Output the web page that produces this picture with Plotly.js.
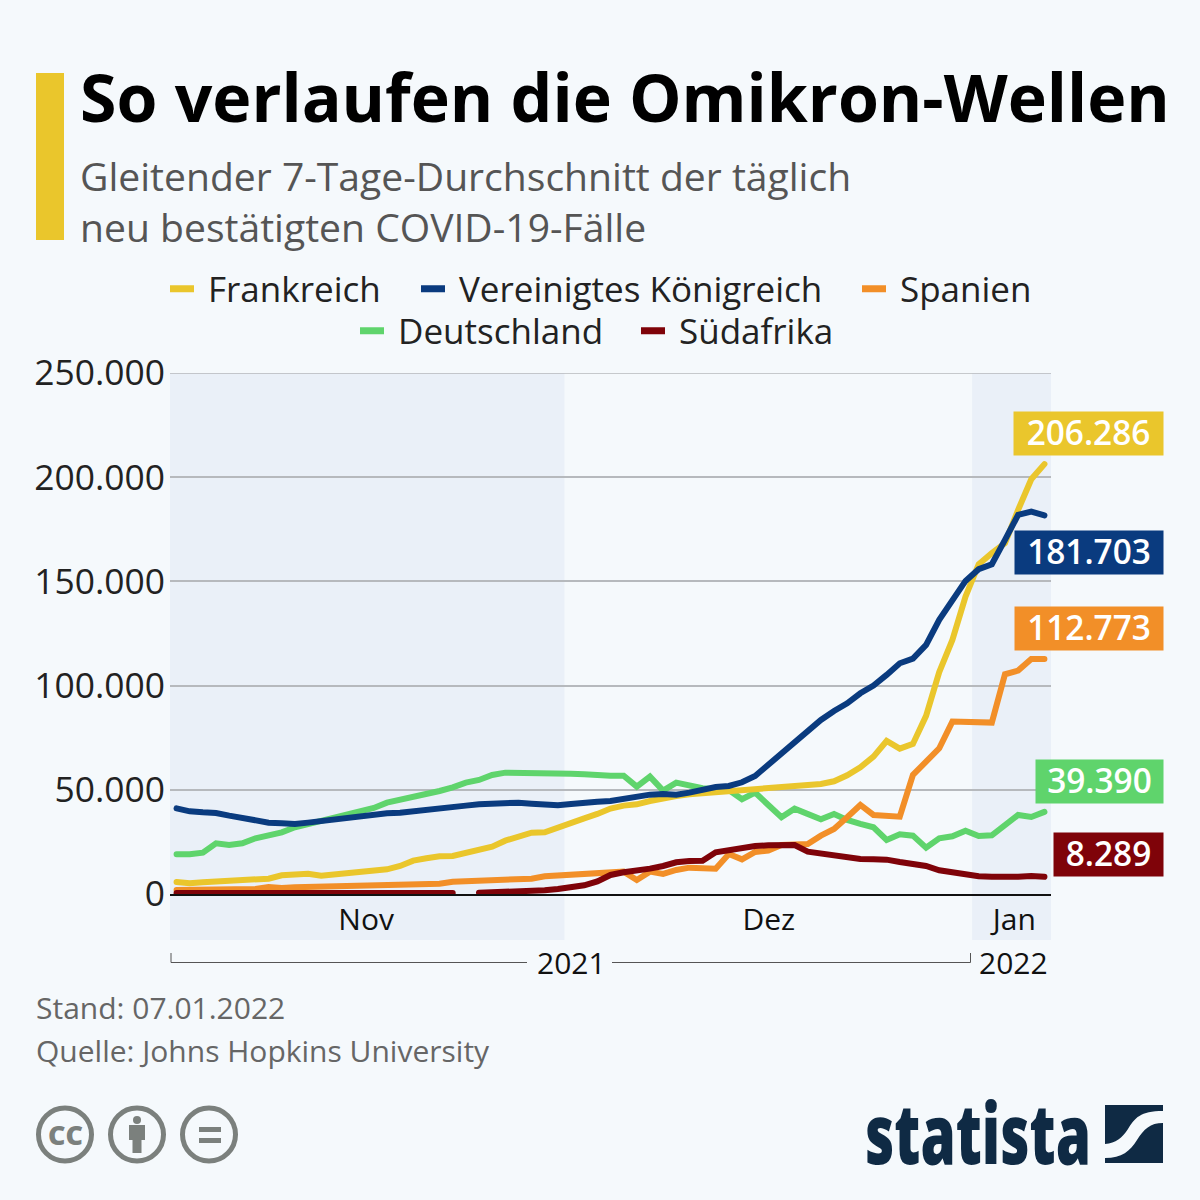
<!DOCTYPE html>
<html><head><meta charset="utf-8">
<script src="https://cdn.plot.ly/plotly-3.0.0.min.js"></script>
<style>html,body{margin:0;padding:0;background:#F5F9FC}.scatterlayer .js-line{stroke-linecap:round}</style></head>
<body><div id="chart" style="width:1200px;height:1200px"></div>
<script>
const days = ["2021-11-01","2021-11-02","2021-11-03","2021-11-04","2021-11-05","2021-11-06","2021-11-07","2021-11-08","2021-11-09","2021-11-10","2021-11-11","2021-11-12","2021-11-13","2021-11-14","2021-11-15","2021-11-16","2021-11-17","2021-11-18","2021-11-19","2021-11-20","2021-11-21","2021-11-22","2021-11-23","2021-11-24","2021-11-25","2021-11-26","2021-11-27","2021-11-28","2021-11-29","2021-11-30","2021-12-01","2021-12-02","2021-12-03","2021-12-04","2021-12-05","2021-12-06","2021-12-07","2021-12-08","2021-12-09","2021-12-10","2021-12-11","2021-12-12","2021-12-13","2021-12-14","2021-12-15","2021-12-16","2021-12-17","2021-12-18","2021-12-19","2021-12-20","2021-12-21","2021-12-22","2021-12-23","2021-12-24","2021-12-25","2021-12-26","2021-12-27","2021-12-28","2021-12-29","2021-12-30","2021-12-31","2022-01-01","2022-01-02","2022-01-03","2022-01-04","2022-01-05","2022-01-06"];
const frankreich = [5760,5120,5600,6080,6560,6880,7200,7360,8960,9280,9760,8800,9440,10080,10240,11040,11840,13440,16000,17120,18080,18240,19520,21120,22720,25600,27840,29440,29600,32000,34240,36320,38400,41000,42400,43040,44640,46080,47040,47840,48320,48640,48800,49600,50080,50560,50880,51360,52160,52800,54080,56960,60800,65920,73440,69760,72000,85500,106500,121920,142720,158240,163520,168320,184320,199040,206286];
const vereinigtesKoenigreich = [41120,39680,39200,38880,37600,36320,35360,34240,33920,33600,34240,35040,36000,36640,37600,38400,38720,39040,39840,40320,40800,41600,42400,43040,43200,43840,43840,43360,43040,42560,43200,44000,44320,44640,45760,47040,47680,48000,47680,48640,50240,51360,51840,53600,56640,61920,67040,72640,77920,83520,87840,91520,96320,100000,105120,110720,112960,119520,131520,140320,150240,155840,158240,169920,181920,183520,181703];
const spanien = [1920,2080,2240,2400,2400,2400,2400,3360,2880,3200,3360,3360,3360,3520,4000,4480,4640,4800,4960,4960,4960,5920,6240,6560,7040,7360,7360,7360,8480,8960,9120,9920,10400,10720,10720,6720,10720,9600,11520,12640,12640,12160,19200,16640,20160,20800,23520,24000,24000,28000,31200,36800,42720,37920,37600,37120,57120,63520,69920,82720,82720,82720,82240,105440,107200,112800,112773];
const deutschland = [19040,19040,19840,24320,23520,24320,26720,28320,29600,32000,33600,35040,36800,38080,39680,41280,43840,45120,47040,48320,49440,51200,53440,54720,57120,58240,58240,57600,58240,58240,57760,57440,56960,56800,56800,51520,56320,49600,53440,52160,50720,50240,49920,45440,48640,42720,36800,40960,38400,35840,38400,35520,33600,32000,25920,28640,28000,22240,26720,27680,30400,27840,28160,32800,37920,36960,39390];
const suedafrika = [480,480,480,480,480,480,480,480,480,480,480,480,480,480,480,480,480,480,480,480,480,480,null,640,800,1120,1440,1600,1760,2400,3040,4160,6080,9120,10400,11040,12160,13440,15200,15840,16000,20000,20960,22240,23040,23360,23680,23520,20320,19520,18080,17280,16800,16640,16480,15360,14720,13440,11360,10240,9120,8480,8320,8160,8320,8640,8289];

const seriesNames = ["Frankreich","Vereinigtes Königreich","Spanien","Deutschland","Südafrika"];
const seriesColors = ["#EAC62C","#0A3B7F","#F28F28","#5FD46C","#7F0309"];
const endLabels = ["206.286","181.703","112.773","39.390","8.289"];
const yTicks = [0,50000,100000,150000,200000,250000];
const yTickText = ["0","50.000","100.000","150.000","200.000","250.000"];
const monthTickVals = ["2021-11-15 10:00","2021-12-16 01:00","2022-01-03 17:00"];
const monthTickText = ["Nov","Dez","Jan"];
const rangeX = ["2021-10-31 12:00","2022-01-06 12:00"];
const dec1 = "2021-11-30 12:00", jan1 = "2021-12-31 12:00";

const PL=170,PT=373,PW=881,PH=521;
const fx=x=>(x-PL)/PW, fy=y=>(PT+PH-y)/PH;
const P=(x,y)=>fx(x)+" "+fy(y);
const FONT='"Open Sans", sans-serif';
const BG="#F5F9FC", BAND="#EAF0F8", GREY="#7B807D", NAVY="#0F2A44";

const seriesValues=[frankreich,vereinigtesKoenigreich,spanien,deutschland,suedafrika];
const legendKeys=["legend","legend2","legend3","legend4","legend5"];
const legendTextX=[208,459,900,398,679], legendY=[289,289,289,331,331];
const drawOrder=[3,2,0,1,4];
const traces=drawOrder.map(i=>({type:"scatter",mode:"lines",x:days,y:seriesValues[i],name:seriesNames[i],
  legend:legendKeys[i],cliponaxis:false,connectgaps:false,
  line:{color:seriesColors[i],width:6,shape:"linear"},hoverinfo:"x+y+name"}));

const rectPx=(x0,y0,x1,y1,c)=>({type:"rect",xref:"paper",yref:"paper",x0:fx(x0),x1:fx(x1),y0:fy(y0),y1:fy(y1),fillcolor:c,line:{width:0},layer:"below"});
const circ=(cx,cy,r)=>({type:"circle",xref:"paper",yref:"paper",x0:fx(cx-r),x1:fx(cx+r),y0:fy(cy+r),y1:fy(cy-r),line:{color:GREY,width:5},fillcolor:"rgba(0,0,0,0)"});
const linePx=(x0,y0,x1,y1)=>({type:"line",xref:"paper",yref:"paper",x0:fx(x0),x1:fx(x1),y0:fy(y0),y1:fy(y1),line:{color:"#555",width:1}});
const bandY0=fy(940), bandY1=1;
const shapes=[
 rectPx(36,73,64,240,"#EAC62C"),
 {type:"rect",xref:"x",yref:"paper",x0:rangeX[0],x1:dec1,y0:bandY0,y1:bandY1,fillcolor:BAND,line:{width:0},layer:"below"},
 {type:"rect",xref:"x",yref:"paper",x0:jan1,x1:rangeX[1],y0:bandY0,y1:bandY1,fillcolor:BAND,line:{width:0},layer:"below"},
 {type:"line",xref:"paper",yref:"y",x0:0,x1:1,y0:yTicks[5],y1:yTicks[5],line:{color:"#B6B9BD",width:1.5},layer:"below"},
 linePx(171,962.5,527,962.5),linePx(171,953,171,962.5),
 linePx(612,962.5,970.5,962.5),linePx(970.5,953,970.5,962.5),
 circ(65,1134.5,26.5),circ(137,1134.5,26.5),circ(209,1134.5,26.5),
 {type:"circle",xref:"paper",yref:"paper",x0:fx(133),x1:fx(141),y0:fy(1124),y1:fy(1116),fillcolor:GREY,line:{width:0}},
 {type:"path",xref:"paper",yref:"paper",path:"M "+P(129,1125)+" L "+P(145,1125)+" L "+P(145,1140)+" L "+P(141.5,1140)+" L "+P(141.5,1153)+" L "+P(132.5,1153)+" L "+P(132.5,1140)+" L "+P(129,1140)+" Z",fillcolor:GREY,line:{width:0}},
 rectPx(199,1127,221,1132,GREY),rectPx(199,1138,221,1143,GREY),
 {type:"path",xref:"paper",yref:"paper",path:"M "+P(1105,1105)+" L "+P(1163,1105)+" L "+P(1163,1111)+" C "+P(1140,1111)+" "+P(1135,1118)+" "+P(1128,1129)+" C "+P(1122,1138)+" "+P(1116,1143)+" "+P(1105,1144)+" Z",fillcolor:NAVY,line:{width:0}},
 {type:"path",xref:"paper",yref:"paper",path:"M "+P(1163,1123)+" C "+P(1150,1123)+" "+P(1144,1129)+" "+P(1137,1140)+" C "+P(1130,1151)+" "+P(1122,1158)+" "+P(1105,1158)+" L "+P(1105,1163)+" L "+P(1163,1163)+" Z",fillcolor:NAVY,line:{width:0}}
];

const note=(t,x,y,o)=>Object.assign({xref:"paper",yref:"paper",x:fx(x),y:fy(y),text:t,showarrow:false,xanchor:"left",yanchor:"middle",align:"left",font:{family:FONT,size:30,color:"#666"}},o||{});
const labelY=[433,552.5,628.5,781.5,854], labelW=[149,148,148,127,109];
const annotations=[
 note("Gleitender 7-Tage-Durchschnitt der täglich<br>neu bestätigten COVID-19-Fälle",78,201,{font:{family:FONT,size:39.1,color:"#555"}}),
 note("2021",571,962,{xanchor:"center",align:"center",font:{family:FONT,size:30,color:"#111"}}),
 note("2022",1013,962,{xanchor:"center",align:"center",font:{family:FONT,size:30,color:"#111"}}),
 note("Stand: 07.01.2022",34,1007.5),
 note("Quelle: Johns Hopkins University",34,1050),
 note("CC",65,1134,{xanchor:"center",align:"center",font:{family:FONT,size:27,weight:800,color:GREY}}),
 note("statista",863,1131,{font:{family:FONT,size:83,weight:800,color:NAVY}})
].concat(endLabels.map((t,i)=>note(t,1164,labelY[i],{xanchor:"right",align:"center",width:labelW[i],height:43,borderpad:0,bgcolor:seriesColors[i],font:{family:FONT,size:33.4,weight:600,color:"#fff"}})));

const layout={width:1200,height:1200,margin:{l:PL,r:1200-PL-PW,t:PT,b:1200-PT-PH,pad:0},
 paper_bgcolor:BG,plot_bgcolor:"rgba(0,0,0,0)",font:{family:FONT,color:"#111"},
 title:{text:"<b>So verlaufen die Omikron-Wellen</b>",x:80/1200,xref:"container",xanchor:"left",y:1-99/1200,yref:"container",yanchor:"middle",font:{family:FONT,size:66.2,color:"#000"}},
 showlegend:true,
 xaxis:{type:"date",range:rangeX,tickmode:"array",tickvals:monthTickVals,ticktext:monthTickText,ticks:"",showgrid:false,zeroline:false,showline:true,linecolor:"#111",linewidth:1.5,tickfont:{family:FONT,size:30,color:"#111"},ticklabelstandoff:-2,fixedrange:true},
 yaxis:{range:[0,250000],tickmode:"array",tickvals:yTicks,ticktext:yTickText,ticks:"",showgrid:true,gridcolor:"#B6B9BD",gridwidth:1.5,zeroline:false,showline:false,tickfont:{family:FONT,size:35.4,color:"#222"},ticklabelstandoff:4,fixedrange:true},
 shapes:shapes,annotations:annotations};
legendKeys.forEach((k,i)=>{layout[k]={orientation:"h",x:fx(legendTextX[i]-40),xanchor:"left",y:fy(legendY[i]),yanchor:"middle",font:{family:FONT,size:35,color:"#222"},bgcolor:"rgba(0,0,0,0)",itemwidth:30};});
Plotly.newPlot("chart",traces,layout,{displayModeBar:false}).then(()=>{
  document.querySelectorAll(".annotation-text").forEach(t=>{
    if(t.textContent==="statista"){t.setAttribute("textLength","226");t.setAttribute("lengthAdjust","spacingAndGlyphs");}
    if(endLabels.includes(t.textContent)){t.setAttribute("y",parseFloat(t.getAttribute("y"))-1.5);}
  });
  document.querySelectorAll(".legendlines path").forEach(p=>{p.setAttribute("d","M2,0h24");p.style.strokeWidth="7px";});
});
</script></body></html>
